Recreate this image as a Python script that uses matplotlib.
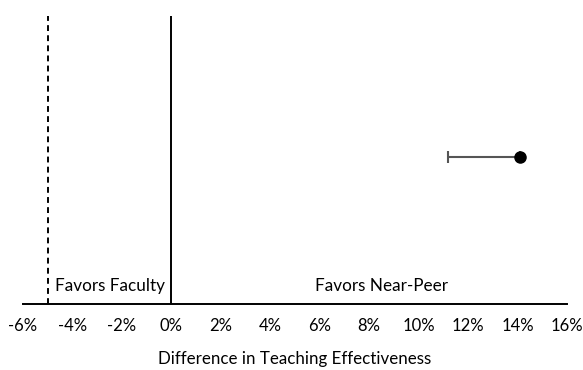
import numpy as np
from matplotlib import pyplot as plt
from matplotlib.ticker import FuncFormatter

plt.rcParams['font.family'] = ['Lato', 'DejaVu Sans']

# effect estimate and lower bound (percentage points)
estimate = [14.1]
lower = [11.2]
row = [0.51]
margin = -5          # non-inferiority margin
xticks = np.arange(-6, 17, 2)

fig = plt.figure(figsize=(5.83, 3.70), dpi=100)
ax = fig.add_axes([0.0395, 0.178, 0.933, 0.779])

ax.axvline(margin, color='black', lw=1.4, ls=(0, (3, 2.2)))
ax.axvline(0, color='black', lw=1.4)

err = np.array(estimate) - np.array(lower)
ax.errorbar(estimate, row, xerr=[err, np.zeros_like(err)], fmt='o',
            color='black', ecolor='#555555', elinewidth=1.5, capsize=4,
            capthick=1.5, markersize=8)

ax.text(-2.5, 0.035, 'Favors Faculty', ha='center', va='bottom', fontsize=12.3)
ax.text(8.5, 0.035, 'Favors Near-Peer', ha='center', va='bottom', fontsize=12.3)

ax.set_xlim(-6, 16)
ax.set_ylim(0, 1)
ax.set_xticks(xticks)
ax.xaxis.set_major_formatter(FuncFormatter(lambda v, p: f'{v:.0f}%'))
ax.tick_params(axis='x', length=0, pad=10, labelsize=12)
ax.set_yticks([])
for s in ['top', 'left', 'right']:
    ax.spines[s].set_visible(False)
ax.spines['bottom'].set_linewidth(1.4)
ax.set_xlabel('Difference in Teaching Effectiveness', fontsize=12.2, labelpad=12)

fig.savefig('out.png', dpi=100)
